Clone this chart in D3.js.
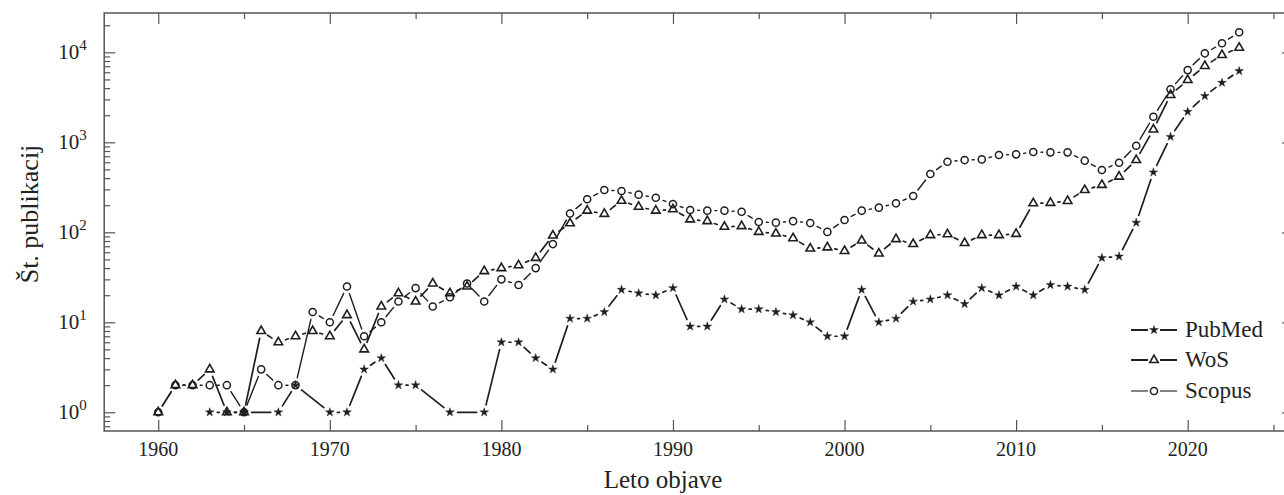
<!DOCTYPE html>
<html>
<head>
<meta charset="utf-8">
<script src="https://cdn.jsdelivr.net/npm/d3@7"></script>
<style>
  html, body { margin: 0; padding: 0; background: #fff; }
  svg { display: block; }
  text { font-family: "Liberation Serif", "DejaVu Serif", serif; fill: #222; }
</style>
</head>
<body>
<svg id="chart" width="1284" height="495"></svg>
<script>
// ---- data ----
const years = d3.range(1960, 2024);
const pubmed = [null, null, null, 1, 1, 1, null, 1, 2, null,
  1, 1, 3, 4, 2, 2, null, 1, null, 1,
  6, 6, 4, 3, 11, 11, 13, 23, 21, 20,
  24, 9, 9, 18, 14, 14, 13, 12, 10, 7,
  7, 23, 10, 11, 17, 18, 20, 16, 24, 20,
  25, 20, 26, 25, 23, 52, 54, 128, 464, 1150,
  2190, 3270, 4590, 6200];
const wos = [1, 2, 2, 3, 1, 1, 8, 6, 7, 8,
  7, 12, 5, 15, 21, 17, 27, 21, 25, 37,
  40, 43, 52, 92, 126, 174, 160, 224, 192, 174,
  180, 139, 133, 115, 117, 101, 97, 86, 66, 68,
  62, 81, 58, 84, 74, 93, 95, 76, 93, 93,
  96, 210, 212, 223, 295, 336, 415, 635, 1390, 3360,
  4920, 7050, 9330, 11250];
const scopus = [1, 2, 2, 2, 2, 1, 3, 2, 2, 13,
  10, 25, 7, 10, 17, 24, 15, 19, 27, 17,
  30, 26, 40, 74, 162, 233, 295, 288, 262, 242,
  206, 177, 174, 174, 169, 130, 128, 133, 127, 101,
  137, 174, 188, 210, 253, 444, 608, 635, 646, 722,
  735, 780, 774, 774, 625, 492, 593, 916, 1925, 3880,
  6350, 9750, 12600, 16700];
const seriesNames = ["PubMed", "WoS", "Scopus"];
const xMajorTicks = [1960, 1970, 1980, 1990, 2000, 2010, 2020];
const xMinorTicks = [1965, 1975, 1985, 1995, 2005, 2015, 2025];
const yMajorExponents = [0, 1, 2, 3, 4];
const xTitle = "Leto objave";
const yTitle = "Št. publikacij";

// ---- layout ----
const svg = d3.select("#chart");
const L = 104.2, R = 1293.2, T = 13, B = 431;
const x = d3.scaleLinear().domain([1956.85, 2026.15]).range([L, R]);
const y = d3.scaleLog().domain([Math.pow(10, -0.208), Math.pow(10, 4.437)]).range([B, T]);

const ink = "#1e1e1e";
const axisCol = "#555";

// minor y ticks
const yMinor = [];
for (let e = -1; e <= 4; e++) for (let m = 2; m <= 9; m++) {
  const v = m * Math.pow(10, e);
  if (v > y.domain()[0] && v < y.domain()[1]) yMinor.push(v);
}
const yMajor = yMajorExponents.map(e => Math.pow(10, e));

function styleAxis(g) {
  g.select(".domain").remove();
  g.selectAll(".tick line").attr("stroke", axisCol).attr("stroke-width", 1.2);
  g.selectAll(".tick text").remove();
}

// Axes (inward ticks on all four sides)
svg.append("g").attr("transform", `translate(0,${B})`)
  .call(d3.axisBottom(x).tickValues(xMajorTicks).tickSize(-11)).call(styleAxis);
svg.append("g").attr("transform", `translate(0,${B})`)
  .call(d3.axisBottom(x).tickValues(xMinorTicks).tickSize(-6)).call(styleAxis);
svg.append("g").attr("transform", `translate(0,${T})`)
  .call(d3.axisTop(x).tickValues(xMajorTicks).tickSize(-11)).call(styleAxis);
svg.append("g").attr("transform", `translate(0,${T})`)
  .call(d3.axisTop(x).tickValues(xMinorTicks).tickSize(-6)).call(styleAxis);
svg.append("g").attr("transform", `translate(${L},0)`)
  .call(d3.axisLeft(y).tickValues(yMajor).tickSize(-11)).call(styleAxis);
svg.append("g").attr("transform", `translate(${L},0)`)
  .call(d3.axisLeft(y).tickValues(yMinor).tickSize(-6)).call(styleAxis);
svg.append("g").attr("transform", `translate(${R},0)`)
  .call(d3.axisRight(y).tickValues(yMajor).tickSize(-11)).call(styleAxis);
svg.append("g").attr("transform", `translate(${R},0)`)
  .call(d3.axisRight(y).tickValues(yMinor).tickSize(-6)).call(styleAxis);

// frame
svg.append("rect").attr("x", L).attr("y", T).attr("width", R - L).attr("height", B - T)
  .attr("fill", "none").attr("stroke", axisCol).attr("stroke-width", 1.5);

// x tick labels
svg.append("g").selectAll("text").data(xMajorTicks).join("text")
  .attr("x", d => x(d)).attr("y", B + 25)
  .attr("text-anchor", "middle").attr("font-size", 20)
  .text(d => d);

// y tick labels 10^e
const yl = svg.append("g").selectAll("text").data(yMajorExponents).join("text")
  .attr("x", L - 46).attr("y", d => y(Math.pow(10, d)) + 7)
  .attr("font-size", 21);
yl.append("tspan").text("10");
yl.append("tspan").attr("dy", -9).attr("font-size", 15).text(d => d);

// axis titles
svg.append("text").attr("x", 663).attr("y", 488).attr("text-anchor", "middle")
  .attr("font-size", 25).text(xTitle);
svg.append("text").attr("transform", "translate(38,214) rotate(-90)")
  .attr("text-anchor", "middle").attr("font-size", 26).text(yTitle);

// ---- series ----
const symbols = [d3.symbolStar, d3.symbolTriangle, d3.symbolCircle];
const symSizes = [24, 32, 40];
const lineWidths = [1.7, 1.7, 1.4];
const data = [pubmed, wos, scopus];
const gap = 7.6;

function markerPath(i) {
  return d3.symbol().type(symbols[i]).size(symSizes[i])();
}
function styleMarker(sel, i) {
  if (i === 0) sel.attr("fill", ink).attr("stroke", ink).attr("stroke-width", 0.4);
  else sel.attr("fill", "none").attr("stroke", ink).attr("stroke-width", i === 1 ? 1.6 : 1.5);
}

data.forEach((vals, i) => {
  const pts = years.map((yr, k) => ({ yr, v: vals[k] })).filter(d => d.v != null)
    .map(d => ({ px: x(d.yr), py: y(d.v) }));
  const segs = [];
  for (let k = 0; k < pts.length - 1; k++) {
    const a = pts[k], b = pts[k + 1];
    const dx = b.px - a.px, dy = b.py - a.py, len = Math.hypot(dx, dy);
    if (len > 2 * gap) {
      const ux = dx / len, uy = dy / len;
      segs.push([a.px + ux * gap, a.py + uy * gap, b.px - ux * gap, b.py - uy * gap]);
    }
  }
  const g = svg.append("g");
  g.selectAll("line").data(segs).join("line")
    .attr("x1", d => d[0]).attr("y1", d => d[1]).attr("x2", d => d[2]).attr("y2", d => d[3])
    .attr("stroke", ink).attr("stroke-width", lineWidths[i]).attr("stroke-linecap", "round");
  g.selectAll("path").data(pts).join("path")
    .attr("d", markerPath(i))
    .attr("transform", d => `translate(${d.px},${d.py})`)
    .call(styleMarker, i);
});

// ---- legend ----
const legRows = [330, 360, 391];
const lg = svg.append("g");
seriesNames.forEach((name, i) => {
  const cy = legRows[i];
  lg.append("line").attr("x1", 1131).attr("x2", 1148).attr("y1", cy).attr("y2", cy)
    .attr("stroke", ink).attr("stroke-width", i === 2 ? 1.1 : 2);
  lg.append("line").attr("x1", 1160).attr("x2", 1177).attr("y1", cy).attr("y2", cy)
    .attr("stroke", ink).attr("stroke-width", i === 2 ? 1.1 : 2);
  lg.append("path").attr("d", markerPath(i)).attr("transform", `translate(1154,${cy})`)
    .call(styleMarker, i);
  lg.append("text").attr("x", 1185).attr("y", cy + 7).attr("font-size", 23).text(name);
});
</script>
</body>
</html>
